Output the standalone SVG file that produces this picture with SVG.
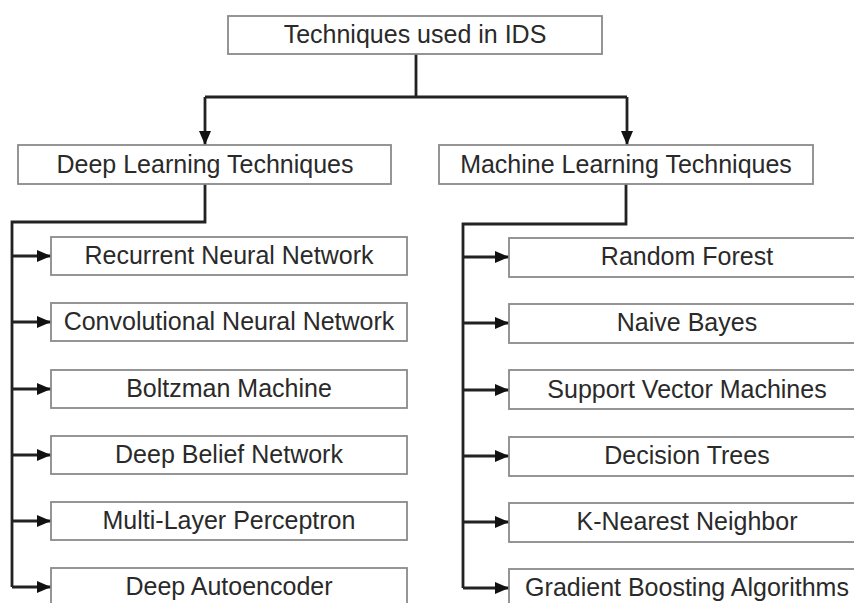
<svg xmlns="http://www.w3.org/2000/svg" width="854" height="603" viewBox="0 0 854 603">
<style>
.box{fill:#fff;stroke:#8a8a8a;stroke-width:1.8}
.t{font-family:"Liberation Sans",Arial,sans-serif;font-size:25px;fill:#2a2a2a;text-anchor:middle}
.c{fill:none;stroke:#222;stroke-width:2.8}
</style>
<defs>
<marker id="ah" markerWidth="14" markerHeight="12" refX="14" refY="6" orient="auto" markerUnits="userSpaceOnUse">
<path d="M0,0 L14,6 L0,12 z" fill="#111"/>
</marker>
</defs>
<rect width="854" height="603" fill="#fff"/>
<g id="connectors">
<path class="c" d="M416,54 V97 M205,97 H627"/>
<path class="c" d="M205,97 V145" marker-end="url(#ah)"/>
<path class="c" d="M627,97 V145" marker-end="url(#ah)"/>
<path class="c" d="M205,184 V222 H12 V587"/>
<path class="c" d="M626,184 V224 H463 V588"/>
<path class="c" d="M12,256 H51" marker-end="url(#ah)"/>
<path class="c" d="M12,322 H51" marker-end="url(#ah)"/>
<path class="c" d="M12,389 H51" marker-end="url(#ah)"/>
<path class="c" d="M12,455 H51" marker-end="url(#ah)"/>
<path class="c" d="M12,521 H51" marker-end="url(#ah)"/>
<path class="c" d="M12,587 H51" marker-end="url(#ah)"/>
<path class="c" d="M463,257 H509" marker-end="url(#ah)"/>
<path class="c" d="M463,323 H509" marker-end="url(#ah)"/>
<path class="c" d="M463,390 H509" marker-end="url(#ah)"/>
<path class="c" d="M463,456 H509" marker-end="url(#ah)"/>
<path class="c" d="M463,522 H509" marker-end="url(#ah)"/>
<path class="c" d="M463,588 H509" marker-end="url(#ah)"/>
</g>
<g id="root"><rect class="box" x="228" y="16" width="374" height="38"/><text class="t" x="415" y="43">Techniques used in IDS</text></g>
<g id="deep"><rect class="box" x="18" y="145" width="373" height="39"/><text class="t" x="205" y="173">Deep Learning Techniques</text></g>
<g id="ml"><rect class="box" x="439" y="145" width="374" height="39"/><text class="t" x="626" y="173">Machine Learning Techniques</text></g>
<g id="rnn"><rect class="box" x="51" y="237" width="356" height="38"/><text class="t" x="229" y="264">Recurrent Neural Network</text></g>
<g id="cnn"><rect class="box" x="51" y="303" width="356" height="38"/><text class="t" x="229" y="330">Convolutional Neural Network</text></g>
<g id="bm"><rect class="box" x="51" y="370" width="356" height="38"/><text class="t" x="229" y="397">Boltzman Machine</text></g>
<g id="dbn"><rect class="box" x="51" y="436" width="356" height="38"/><text class="t" x="229" y="463">Deep Belief Network</text></g>
<g id="mlp"><rect class="box" x="51" y="502" width="356" height="38"/><text class="t" x="229" y="529">Multi-Layer Perceptron</text></g>
<g id="dae"><rect class="box" x="51" y="568" width="356" height="40"/><text class="t" x="229" y="595">Deep Autoencoder</text></g>
<g id="rf"><rect class="box" x="509" y="238" width="360" height="39"/><text class="t" x="687" y="265">Random Forest</text></g>
<g id="nb"><rect class="box" x="509" y="304" width="360" height="39"/><text class="t" x="687" y="331">Naive Bayes</text></g>
<g id="svm"><rect class="box" x="509" y="370" width="360" height="39"/><text class="t" x="687" y="398">Support Vector Machines</text></g>
<g id="dt"><rect class="box" x="509" y="437" width="360" height="39"/><text class="t" x="687" y="464">Decision Trees</text></g>
<g id="knn"><rect class="box" x="509" y="503" width="360" height="39"/><text class="t" x="687" y="530">K-Nearest Neighbor</text></g>
<g id="gb"><rect class="box" x="509" y="569" width="360" height="40"/><text class="t" x="687" y="596">Gradient Boosting Algorithms</text></g>
</svg>
